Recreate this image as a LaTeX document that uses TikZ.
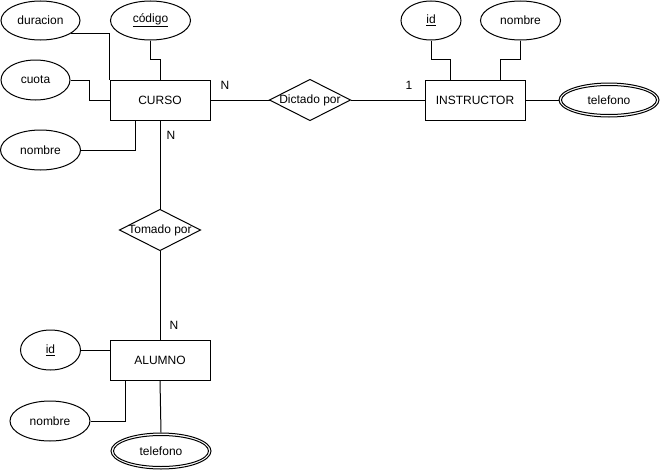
\documentclass[tikz,border=0pt]{standalone}
\usepackage{fontspec}
\setmainfont{Liberation Sans}
\usetikzlibrary{shapes.geometric,calc}
\begin{document}
\begin{tikzpicture}[x=1pt,y=-1pt, line width=1pt, font=\fontsize{12}{14}\selectfont,
  ent/.style={draw, rectangle, minimum width=100pt, minimum height=40pt, inner sep=0pt},
  attr/.style={draw, ellipse, minimum height=40pt, inner sep=0pt},
  rel/.style={rectangle, minimum width=80pt, minimum height=40pt, inner sep=0pt},
  card/.style={inner sep=0pt}]
\useasboundingbox (0,0) rectangle (661,471);
% entities
\node[ent] (curso) at (160,100) {CURSO};
\node[ent] (instr) at (475,100) {INSTRUCTOR};
\node[ent] (alumno) at (160,360) {ALUMNO};
% relationships
\node[rel] (dict) at (310,100) {Dictado por};
\node[rel] (tom) at (160,230) {Tomado por};
\draw (dict.north) -- (dict.east) -- (dict.south) -- (dict.west) -- cycle;
\draw (tom.north) -- (tom.east) -- (tom.south) -- (tom.west) -- cycle;
% attributes
\node[attr, minimum width=79pt, minimum height=39pt] (dur) at (40.5,20.5) {duracion};
\node[attr, minimum width=80pt, minimum height=39pt] (cod) at (150.5,20.5) {\underline{código}};
\node[attr, minimum width=69pt] (cuo) at (35.5,80) {cuota};
\node[attr, minimum width=80pt] (nom1) at (40.5,150) {nombre};
\node[attr, minimum width=60pt, minimum height=39pt] (id2) at (431,20.5) {\underline{id}};
\node[attr, minimum width=80pt, minimum height=39pt] (nom2) at (520.5,20.5) {nombre};
\node[attr, minimum width=100pt, minimum height=34pt] (tel1) at (609,100) {telefono};
\draw (tel1.center) ellipse [x radius=47.5, y radius=14.5];
\node[attr, minimum width=60pt] (id3) at (50.5,350) {\underline{id}};
\node[attr, minimum width=80pt] (nom3) at (50,421) {nombre};
\node[attr, minimum width=100pt, minimum height=36pt] (tel2) at (161,451) {telefono};
\draw (tel2.center) ellipse [x radius=47.5, y radius=15.5];
% connectors
\draw (dur.-23) -| (curso.north west);
\draw (cod.south) |- ([yshift=20pt]curso.north) -- (curso.north);
\draw (cuo.east) -| ([xshift=-20pt]curso.west) -- (curso.west);
\draw (nom1.east) -| ([xshift=-25pt]curso.south);
\draw (curso.east) -- (dict.west);
\draw (dict.east) -- (instr.west);
\draw (curso.south) -- (tom.north);
\draw (tom.south) -- (alumno.north);
\draw (id2.south) |- ([xshift=-25pt,yshift=20pt]instr.north) -- ([xshift=-25pt]instr.north);
\draw (nom2.south) |- ([xshift=25pt,yshift=20pt]instr.north) -- ([xshift=25pt]instr.north);
\draw (instr.east) -- (tel1.west);
\draw (id3.east) -- (id3.east -| alumno.west);
\draw (nom3.east) -| ([xshift=-35pt]alumno.south);
\draw (alumno.south) -- (tel2.north);
% cardinalities
\node[card] (n1) at (225,85) {N};
\node[card] (one) at (409,85) {1};
\node[card] (n2) at (171,135) {N};
\node[card] (n3) at (174,325) {N};
\end{tikzpicture}
\end{document}
